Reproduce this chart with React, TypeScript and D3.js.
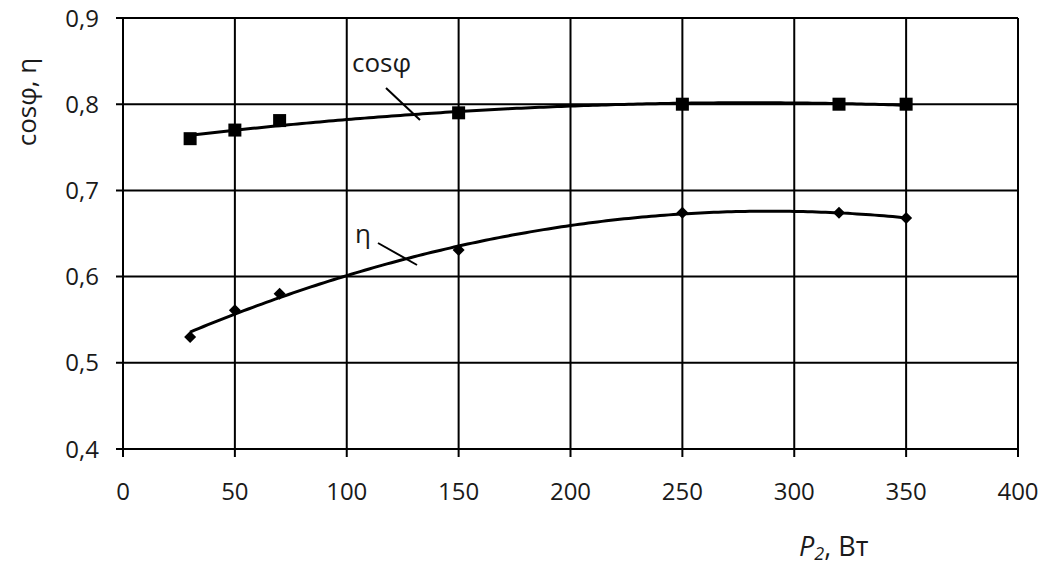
import React from "react";
import * as d3 from "d3";

const powerW = [30, 50, 70, 150, 250, 320, 350];
const cosPhi = [0.76, 0.77, 0.781, 0.79, 0.8, 0.8, 0.8];
const eta = [0.53, 0.561, 0.58, 0.631, 0.674, 0.674, 0.668];
const xTicks = [0, 50, 100, 150, 200, 250, 300, 350, 400];
const yTicks = [0.4, 0.5, 0.6, 0.7, 0.8, 0.9];

const W = 1045, H = 564;
const FONT = "'Open Sans', 'Noto Sans', sans-serif";
const TXT = "#1a1a1a";

// quadratic least-squares trendline (as in the source spreadsheet)
function quadFit(xs: number[], ys: number[]) {
  const n = xs.length;
  let s = [0, 0, 0, 0, 0], t = [0, 0, 0];
  for (let i = 0; i < n; i++) {
    for (let k = 0; k < 5; k++) s[k] += Math.pow(xs[i], k);
    for (let k = 0; k < 3; k++) t[k] += ys[i] * Math.pow(xs[i], k);
  }
  const A = [
    [s[0], s[1], s[2], t[0]],
    [s[1], s[2], s[3], t[1]],
    [s[2], s[3], s[4], t[2]],
  ];
  for (let i = 0; i < 3; i++) {
    for (let j = i + 1; j < 3; j++) {
      const f = A[j][i] / A[i][i];
      for (let k = i; k < 4; k++) A[j][k] -= f * A[i][k];
    }
  }
  const c = [0, 0, 0];
  for (let i = 2; i >= 0; i--) {
    let v = A[i][3];
    for (let k = i + 1; k < 3; k++) v -= A[i][k] * c[k];
    c[i] = v / A[i][i];
  }
  return (x: number) => c[0] + c[1] * x + c[2] * x * x;
}

export default function App() {
  const x = d3.scaleLinear().domain([0, 400]).range([123, 1018]);
  const y = d3.scaleLinear().domain([0.4, 0.9]).range([449, 18]);
  const line = d3.line<[number, number]>().x((d) => x(d[0])).y((d) => y(d[1])).curve(d3.curveLinear);

  const mk = (ys: number[]) => {
    const f = quadFit(powerW, ys);
    const pts: [number, number][] = d3.range(0, 161).map((i) => {
      const xv = powerW[0] + ((powerW[powerW.length - 1] - powerW[0]) * i) / 160;
      return [xv, f(xv)];
    });
    return line(pts) || "";
  };

  const sq = 13;
  const dm = 6;

  return (
    <svg width={W} height={H} style={{ position: "absolute", left: 0, top: 0, background: "#fff" }} fontFamily={FONT}>
      <rect width={W} height={H} fill="#fff" />
      {/* grid */}
      {xTicks.map((t) => (
        <line key={"gx" + t} x1={x(t)} x2={x(t)} y1={y(0.9)} y2={y(0.4) + 8} stroke="#000" strokeWidth={2} />
      ))}
      {yTicks.map((t) => (
        <line key={"gy" + t} x1={x(0) - 7} x2={x(400)} y1={y(t)} y2={y(t)} stroke="#000" strokeWidth={2} />
      ))}
      {/* tick labels */}
      {yTicks.map((t) => (
        <text key={"ly" + t} x={99} y={y(t)} dy="0.36em" textAnchor="end" fontSize={24} fill={TXT}>
          {t.toFixed(1).replace(".", ",")}
        </text>
      ))}
      {xTicks.map((t) => (
        <text key={"lx" + t} x={x(t)} y={500} textAnchor="middle" fontSize={24} fill={TXT}>
          {t}
        </text>
      ))}
      {/* axis titles */}
      <text transform="translate(36,102) rotate(-90)" textAnchor="middle" fontSize={26} fill={TXT}>
        cosφ, η
      </text>
      <text x={799} y={556} fontSize={27} fill={TXT}>
        <tspan fontStyle="italic">P</tspan>
        <tspan fontStyle="italic" fontSize={18} dy={4}>2</tspan>
        <tspan dy={-4}>, Вт</tspan>
      </text>
      {/* trendlines */}
      <path d={mk(cosPhi)} fill="none" stroke="#000" strokeWidth={3} />
      <path d={mk(eta)} fill="none" stroke="#000" strokeWidth={3} />
      {/* markers */}
      {powerW.map((p, i) => (
        <rect key={"s" + i} x={x(p) - sq / 2} y={y(cosPhi[i]) - sq / 2} width={sq} height={sq} fill="#000" />
      ))}
      {powerW.map((p, i) => (
        <path
          key={"d" + i}
          d={`M${x(p)},${y(eta[i]) - dm}L${x(p) + dm},${y(eta[i])}L${x(p)},${y(eta[i]) + dm}L${x(p) - dm},${y(eta[i])}Z`}
          fill="#000"
        />
      ))}
      {/* labels with leaders */}
      <text x={352} y={72} fontSize={26} fill={TXT}>cosφ</text>
      <line x1={386} y1={88} x2={420} y2={120} stroke="#000" strokeWidth={2} />
      <text x={355} y={243} fontSize={26} fill={TXT}>η</text>
      <line x1={378} y1={243} x2={417} y2={265} stroke="#000" strokeWidth={2} />
    </svg>
  );
}
